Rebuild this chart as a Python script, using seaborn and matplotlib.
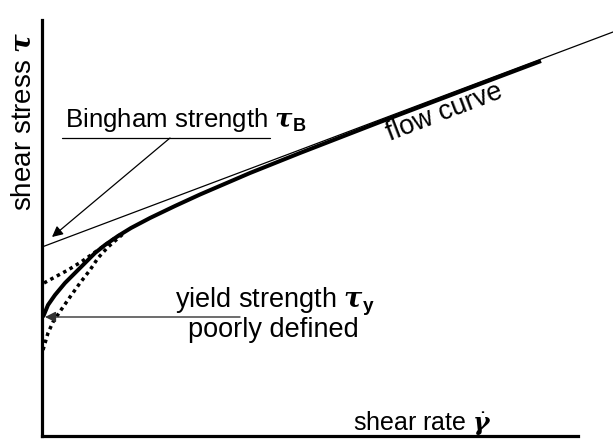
import matplotlib
matplotlib.use("Agg")
import matplotlib.pyplot as plt
import seaborn as sns
import pandas as pd

# Shear rate / shear stress samples (arbitrary units)
flow_rate = [0.02, 0.12, 0.26, 0.46, 0.66, 0.86, 1.06, 1.26, 1.52, 1.78,
             2.16, 2.66, 3.16, 4.16, 5.16, 6.76, 8.76, 9.98]
flow_stress = [2.38, 2.62, 2.82, 3.06, 3.26, 3.46, 3.66, 3.82, 4.00, 4.16,
               4.36, 4.60, 4.83, 5.26, 5.66, 6.28, 7.04, 7.50]

# Alternative low-rate behaviours (poorly defined yield)
upper_rate = [0.04, 0.26, 0.52, 0.78, 0.98, 1.18, 1.40, 1.62]
upper_stress = [3.06, 3.18, 3.32, 3.48, 3.62, 3.76, 3.92, 4.06]
lower_rate = [0.02, 0.12, 0.22, 0.38, 0.56, 0.76, 0.96, 1.12, 1.32, 1.48, 1.62]
lower_stress = [1.72, 2.06, 2.28, 2.52, 2.78, 3.06, 3.32, 3.56, 3.78, 3.92, 4.04]

# Bingham asymptote
bingham_rate = [0.0, 11.42]
bingham_stress = [3.78, 8.08]

tau_B = 3.78
tau_y = 2.38

sns.set_theme(style="white")
plt.rcParams["font.family"] = ["Liberation Sans", "DejaVu Sans"]
plt.rcParams["text.color"] = "black"
plt.rcParams["mathtext.fontset"] = "custom"
plt.rcParams["mathtext.rm"] = "Liberation Sans"
plt.rcParams["mathtext.it"] = "DejaVu Serif:italic:bold"
plt.rcParams["mathtext.bf"] = "Liberation Sans:bold"

fig = plt.figure(figsize=(6.13, 4.41), dpi=100)
ax = fig.add_axes([42 / 613, 5 / 441, 536 / 613, 416 / 441])
ax.set_xlim(0, 10.72)
ax.set_ylim(0, 8.32)

flow = pd.DataFrame({"rate": flow_rate, "stress": flow_stress})
upper = pd.DataFrame({"rate": upper_rate, "stress": upper_stress})
lower = pd.DataFrame({"rate": lower_rate, "stress": lower_stress})
bing = pd.DataFrame({"rate": bingham_rate, "stress": bingham_stress})

sns.lineplot(data=bing, x="rate", y="stress", ax=ax, color="black",
             lw=0.9, sort=False, estimator=None, clip_on=False)
sns.lineplot(data=upper, x="rate", y="stress", ax=ax, color="black",
             lw=2.5, ls=(0, (1, 1.1)), sort=False, estimator=None)
sns.lineplot(data=lower, x="rate", y="stress", ax=ax, color="black",
             lw=2.5, ls=(0, (1, 1.1)), sort=False, estimator=None)
sns.lineplot(data=flow, x="rate", y="stress", ax=ax, color="black",
             lw=2.9, sort=False, estimator=None, solid_capstyle="butt")

# Axes: only left and bottom lines, no ticks
for side in ("top", "right"):
    ax.spines[side].set_visible(False)
for side in ("left", "bottom"):
    ax.spines[side].set_linewidth(2.3)
    ax.spines[side].set_color("black")
ax.set_xticks([])
ax.set_yticks([])
ax.set_xlabel("")
ax.set_ylabel("")
ax.patch.set_alpha(0)

# Bingham strength label with underline and arrow to intercept
ax.text(0.46, 6.18, r"Bingham strength $\tau_\mathbf{B}$", fontsize=18.6,
        ha="left", va="baseline", color="black")
ax.plot([0.40, 4.56], [5.96, 5.96], color="black", lw=0.9)
ax.annotate("", xy=(0.2, tau_B + 0.2), xytext=(2.56, 5.96),
            arrowprops=dict(arrowstyle="-|>", color="black", lw=0.9,
                            mutation_scale=16, shrinkA=0, shrinkB=0))

# Yield strength label with arrow
ax.text(2.66, 2.56, r"yield strength $\tau_\mathbf{y}$", fontsize=19.5,
        ha="left", va="baseline", color="black")
ax.text(2.92, 1.98, "poorly defined", fontsize=19.5, ha="left",
        va="baseline", color="black")
ax.annotate("", xy=(0.06, tau_y), xytext=(3.96, tau_y),
            arrowprops=dict(arrowstyle="-|>", color="#333333", lw=1.0,
                            mutation_scale=16, shrinkA=0, shrinkB=0))

ax.text(8.06, 6.46, "flow curve", fontsize=19.5, rotation=21,
        ha="center", va="center", rotation_mode="anchor", color="black")

ax.text(6.22, 0.12, r"shear rate $\dot{\gamma}$", fontsize=18,
        ha="left", va="baseline", color="black")
fig.text(24 / 613, 1 - 121 / 441, r"shear stress $\tau$", fontsize=20,
         rotation=90, ha="center", va="center", color="black")

fig.savefig("out.png", dpi=100, facecolor="white")
